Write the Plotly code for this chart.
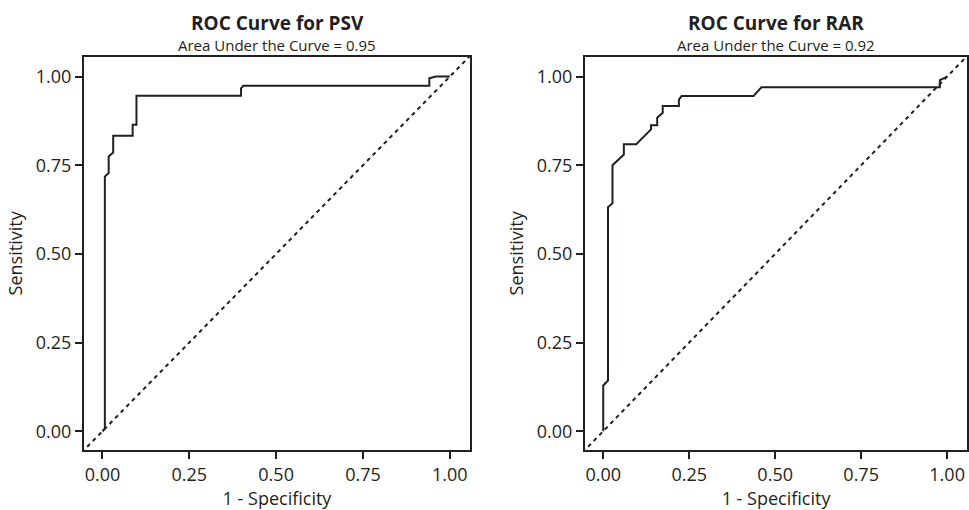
# ROC curves for PSV and RAR, two panels side by side
import plotly.graph_objs as go

# 1 - specificity / sensitivity
psv_fpr = [0.0, 0.007, 0.007, 0.018, 0.018, 0.031, 0.031, 0.087, 0.087, 0.098, 0.098,
           0.399, 0.399, 0.405, 0.941, 0.941, 0.96, 0.996, 1.0]
psv_tpr = [0.0, 0.007, 0.718, 0.728, 0.775, 0.786, 0.833, 0.833, 0.864, 0.864, 0.946,
           0.946, 0.967, 0.974, 0.974, 0.995, 1.0, 1.0, 1.0]

rar_fpr = [0.0, 0.0, 0.014, 0.014, 0.027, 0.027, 0.06, 0.06, 0.096, 0.139, 0.139,
           0.157, 0.157, 0.173, 0.173, 0.22, 0.22, 0.228, 0.437, 0.46, 0.979, 0.979, 1.0]
rar_tpr = [0.0, 0.129, 0.143, 0.632, 0.643, 0.75, 0.78, 0.809, 0.809, 0.851, 0.863,
           0.863, 0.884, 0.898, 0.917, 0.917, 0.935, 0.945, 0.945, 0.97, 0.97, 0.99, 1.0]

ref_line = [-0.06, 1.07]

titles = ['ROC Curve for PSV', 'ROC Curve for RAR']
subtitles = ['Area Under the Curve = 0.95', 'Area Under the Curve = 0.92']
tick_vals = [0, 0.25, 0.5, 0.75, 1.0]
tick_text = ['0.00', '0.25', '0.50', '0.75', '1.00']

ink = '#231f20'
fnt = 'Open Sans'

trace1 = go.Scatter(x=psv_fpr, y=psv_tpr, mode='lines', line=dict(color=ink, width=2),
                    xaxis='x', yaxis='y', showlegend=False)
trace2 = go.Scatter(x=ref_line, y=ref_line, mode='lines', line=dict(color=ink, width=2, dash='4px,4px'),
                    xaxis='x', yaxis='y', showlegend=False)
trace3 = go.Scatter(x=rar_fpr, y=rar_tpr, mode='lines', line=dict(color=ink, width=2),
                    xaxis='x2', yaxis='y2', showlegend=False)
trace4 = go.Scatter(x=ref_line, y=ref_line, mode='lines', line=dict(color=ink, width=2, dash='4px,4px'),
                    xaxis='x2', yaxis='y2', showlegend=False)


def x_axis(dom, anchor):
    return dict(domain=dom, anchor=anchor, range=[-0.053, 1.058], tickvals=tick_vals, ticktext=tick_text,
                showline=True, mirror=True, linecolor=ink, linewidth=2, ticks='outside', ticklen=7,
                tickwidth=2, tickcolor=ink, showgrid=False, zeroline=False, automargin=False,
                tickfont=dict(family=fnt, size=18, color=ink),
                title=dict(text='1 - Specificity', font=dict(family=fnt, size=18, color=ink), standoff=8))


def y_axis(dom, anchor):
    return dict(domain=dom, anchor=anchor, range=[-0.053, 1.056], tickvals=tick_vals, ticktext=tick_text,
                showline=True, mirror=True, linecolor=ink, linewidth=2, ticks='outside', ticklen=7,
                tickwidth=2, tickcolor=ink, showgrid=False, zeroline=False, automargin=False,
                tickfont=dict(family=fnt, size=18, color=ink),
                title=dict(text='Sensitivity', font=dict(family=fnt, size=18, color=ink), standoff=8))


ydom = [0.1176, 0.8888]
notes = []
for cx, t, s in [(0.2859, titles[0], subtitles[0]), (0.8008, titles[1], subtitles[1])]:
    notes.append(dict(text='<b>' + t + '</b>', x=cx, y=0.955, xref='paper', yref='paper',
                      xanchor='center', yanchor='middle', showarrow=False,
                      font=dict(family=fnt, size=19, color=ink)))
    notes.append(dict(text=s, x=cx, y=0.9118, xref='paper', yref='paper',
                      xanchor='center', yanchor='middle', showarrow=False,
                      font=dict(family=fnt, size=15, color=ink)))

layout1 = go.Layout(
    width=969, height=510,
    margin=dict(l=0, r=0, t=0, b=0),
    paper_bgcolor='white', plot_bgcolor='white',
    xaxis=x_axis([0.0867, 0.485], 'y'),
    yaxis=y_axis(ydom, 'x'),
    xaxis2=x_axis([0.6037, 0.998], 'y2'),
    yaxis2=y_axis(ydom, 'x2'),
    annotations=notes)

fig = go.Figure(data=[trace2, trace1, trace4, trace3], layout=layout1)
# drop the default page margin so the 969x510 figure fills the window exactly
fig.write_html("out.html", config={'displayModeBar': False},
               post_script="document.body.style.margin='0';")
